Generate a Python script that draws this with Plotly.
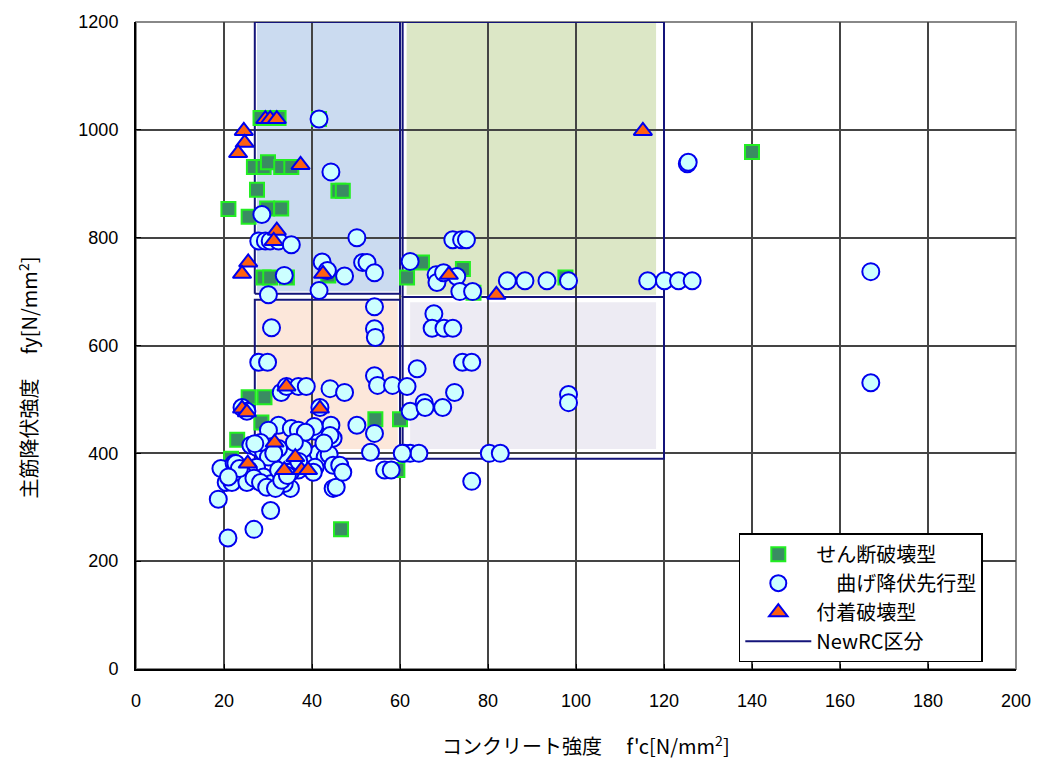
import plotly.graph_objects as go

# せん断破壊型 (shear failure)
shear_fc = [21, 25.6, 26.8, 29, 30, 33, 35.3, 27.5, 29.8, 33, 46, 47, 29, 30.5, 34.3, 43.7,
            28.3, 31.5, 32.4, 41.6, 46.6, 23, 21.6, 25.6, 29.2, 28.5, 54.4, 60, 59.4,
            65, 61.6, 74.3, 97.6, 76.7, 140]
shear_fy = [853, 839, 931, 931, 940, 931, 931, 889, 854, 854, 887, 887, 726, 726, 726, 730,
            1022, 1022, 1022, 1020, 259, 425, 390, 504, 504, 457, 463, 463, 369,
            754, 726, 742, 726, 698, 959]

# 曲げ降伏先行型 (flexural yielding)
flex_fc = [41.6, 44.3, 125.3, 125.5, 28.6, 27.9, 29.4, 30.5, 32.4, 35.3, 50.2,
           42.3, 43.5, 47.4, 51.5, 52.5, 54.2, 33.7, 41.6, 30.1,
           62.3, 72, 74, 75.1, 68.2, 68.4, 69.9, 72.9, 73.6, 76.5, 84.4, 88.4, 93.4, 98.3,
           116.3, 120.1, 123.3, 126.4, 167, 167,
           30.8, 54.2, 54.2, 54.4, 67.7, 67.3, 70, 72, 74.2, 76.3, 63.9,
           27.9, 29.9, 33, 34.2, 36.9, 38.7, 44.1, 47.4, 54.2, 54.9, 58.3, 61.6, 72.4,
           62.3, 65.5, 65.7, 69.7, 98.3, 98.3, 24.1, 25.2, 41.8,
           32.4, 35.3, 36.9, 40.7, 44.3, 44.8, 50.2, 54.2, 53.3, 61, 62.3, 64.3, 60.5,
           80.3, 82.8, 56.5, 58, 76.3, 44.8, 45.5, 35.1, 30.6, 26.8, 20.9, 18.7, 19.3,
           20.5, 22.3, 21.8, 26.1, 27.4, 29, 30.1, 27.4, 25.6, 29, 30.8, 32.4, 33.7,
           36.9, 38.5, 39.8, 41.4, 43, 43.9, 44.1, 44.8, 46.3, 47, 40.7, 40.3, 35.1,
           34, 32.4, 31.3, 30.1, 24.1, 22.7, 25.2, 26.8, 28.3, 29.7, 31.7, 33.1, 34.4,
           42.7, 40.5, 38.5, 28.3, 27, 23.5, 21, 38, 36, 37]
flex_fy = [1020, 922, 937, 940, 843, 794, 794, 794, 794, 787, 800,
           755, 739, 729, 754, 754, 735, 730, 702, 694,
           756, 796, 796, 796, 731, 717, 735, 728, 700, 700, 720, 720, 720, 720,
           720, 720, 720, 720, 737, 531,
           633, 672, 631, 615, 659, 632, 632, 632, 569, 569, 557,
           569, 569, 513, 524, 524, 524, 520, 513, 544, 526, 526, 524, 513,
           478, 494, 485, 485, 509, 494, 485, 478, 485,
           452, 446, 443, 441, 452, 428, 452, 437, 402, 400, 400, 400, 400,
           400, 400, 369, 369, 348, 335, 337, 335, 294, 259, 243, 315, 372,
           346, 381, 346, 415, 411, 402, 393, 374, 369, 356, 344, 369, 344,
           369, 400, 396, 400, 393, 398, 433, 378, 378, 365, 374, 365, 365,
           396, 409, 400, 443, 363, 381, 346, 354, 346, 337, 335, 350, 359,
           419, 450, 439, 420, 418, 372, 356, 408, 420, 385]

# 付着破壊型 (bond failure)
bond_fc = [24.5, 24.7, 23.2, 29.4, 30.5, 32, 37.4, 25.5, 24.1, 32, 31.3, 42.5,
           34.2, 24.1, 25.2, 41.8, 31.5, 25.4, 36.2, 33.7, 37.6, 39.1, 71.1, 81.9, 115.2]
bond_fy = [998, 976, 957, 1020, 1020, 1020, 935, 754, 733, 813, 794, 733,
           524, 483, 476, 483, 420, 381, 393, 369, 369, 369, 731, 694, 998]

# NewRC区分: region outlines (fc range, fy range)
region_fc = [(27, 60), (27, 60), (60.6, 120), (60.6, 120)]
region_fy = [(696, 1200), (390, 685), (690, 1200), (390, 690)]
# tinted backgrounds of the four regions
fill_fc = [(27.5, 59.7), (27.5, 59.5), (61.5, 118.2), (62.3, 118.2)]
fill_fy = [(700, 1198), (408, 682), (694, 1198), (408, 680)]
fill_colors = ["#cbdbf0", "#fce7da", "#dce7c6", "#edebf3"]

x_ticks = list(range(0, 201, 20))
y_ticks = list(range(0, 1201, 200))

FONT = "Noto Sans CJK JP"
NUM_FONT = "Liberation Sans"

fig = go.Figure()

# region outlines as one line trace
rx, ry = [], []
for (x0, x1), (y0, y1) in zip(region_fc, region_fy):
    rx += [x0, x1, x1, x0, x0, None]
    ry += [y0, y0, y1, y1, y0, None]
fig.add_trace(go.Scatter(
    x=rx, y=ry, mode="lines", name="NewRC区分", legendrank=4,
    line=dict(color="#14147a", width=2),
))

fig.add_trace(go.Scatter(
    x=shear_fc, y=shear_fy, mode="markers", name="せん断破壊型", legendrank=1,
    marker=dict(symbol="square", size=14, color="#3a8c62",
                line=dict(color="#22ee22", width=2)),
))
fig.add_trace(go.Scatter(
    x=flex_fc, y=flex_fy, mode="markers", name="\u3000曲げ降伏先行型", legendrank=2,
    marker=dict(symbol="circle", size=17, color="#ccffff",
                line=dict(color="#0000ee", width=2)),
))
fig.add_trace(go.Scatter(
    x=bond_fc, y=bond_fy, mode="markers", name="付着破壊型", legendrank=3,
    marker=dict(symbol="triangle-up", size=16, color="#ff6010",
                line=dict(color="#0000ee", width=2)),
))

shapes = []
for (x0, x1), (y0, y1), c in zip(fill_fc, fill_fy, fill_colors):
    shapes.append(dict(type="rect", xref="x", yref="y", x0=x0, x1=x1, y0=y0, y1=y1,
                       fillcolor=c, line=dict(width=0), layer="below"))
# gray frame on the top and right
shapes.append(dict(type="rect", xref="paper", yref="paper", x0=0, x1=1, y0=0, y1=1,
                   line=dict(color="#888888", width=2), layer="below"))

fig.update_layout(
    width=1043, height=762,
    margin=dict(l=136, r=18, t=21, b=93),
    paper_bgcolor="white", plot_bgcolor="white",
    font=dict(family=FONT, size=16, color="black"),
    shapes=shapes,
    showlegend=True,
    legend=dict(
        x=0.685, y=0.21, xanchor="left", yanchor="top",
        bgcolor="white", bordercolor="black", borderwidth=1.5,
        font=dict(family=FONT, size=20, color="black"),
        itemwidth=66, tracegroupgap=0,
    ),
    annotations=[
        dict(text="主筋降伏強度\u3000 fy[N/mm<sup>2</sup>]", xref="paper", yref="paper",
             x=-0.123, y=0.45, xanchor="center", yanchor="middle",
             textangle=-90, showarrow=False,
             font=dict(family=FONT, size=20, color="black")),
        dict(text="コンクリート強度\u3000 f'c[N/mm<sup>2</sup>]", xref="paper", yref="paper",
             x=0.511, y=-0.117, xanchor="center", yanchor="middle", showarrow=False,
             font=dict(family=FONT, size=20, color="black")),
    ],
)

fig.update_xaxes(
    range=[0, 200], tickvals=x_ticks, ticktext=[str(v) for v in x_ticks],
    showgrid=True, gridcolor="#444444", gridwidth=2, zeroline=False,
    showline=True, linecolor="black", linewidth=2,
    ticks="inside", ticklen=5, tickcolor="black", ticklabelstandoff=14,
    tickfont=dict(family=NUM_FONT, size=18),
)
fig.update_yaxes(
    range=[0, 1200], tickvals=y_ticks, ticktext=[str(v) for v in y_ticks],
    showgrid=True, gridcolor="#444444", gridwidth=2, zeroline=False,
    showline=True, linecolor="black", linewidth=2,
    ticks="inside", ticklen=5, tickcolor="black", ticklabelstandoff=12,
    tickfont=dict(family=NUM_FONT, size=18),
)

fig.write_html("out.html")
